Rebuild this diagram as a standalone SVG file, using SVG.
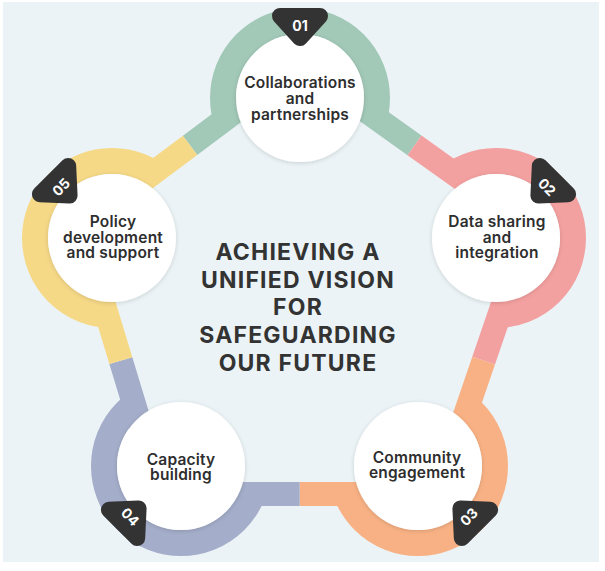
<svg xmlns="http://www.w3.org/2000/svg" width="605" height="571" viewBox="0 0 605 571">
  <style>
    .band { fill: none; stroke-width: 24; stroke-linejoin: miter; stroke-linecap: butt; }
    .ring { fill: none; stroke-width: 26; }
    .disc { fill: #ffffff; filter: url(#sh); }
    .badge { fill: #333333; stroke: #333333; stroke-width: 16; stroke-linejoin: round; }
    .num { font-family: Inter, "Liberation Sans", sans-serif; font-weight: 700; font-size: 14px; fill: #ffffff; text-anchor: middle; }
    .lbl { font-family: Inter, "Liberation Sans", sans-serif; font-weight: 600; font-size: 15.5px; fill: #2e2e2e; text-anchor: middle; letter-spacing: 0.2px; }
    .title { font-family: Inter, "Liberation Sans", sans-serif; font-weight: 700; font-size: 23px; fill: #333333; text-anchor: middle; letter-spacing: 1.2px; }
    .c1 { stroke: #a2c8b7; } .c2 { stroke: #f3a1a0; } .c3 { stroke: #f8b184; } .c4 { stroke: #a4adc9; } .c5 { stroke: #f6d987; }
  </style>
  <defs>
    <filter id="sh" x="-20%" y="-20%" width="140%" height="140%">
      <feDropShadow dx="0" dy="1" stdDeviation="2" flood-color="#000000" flood-opacity="0.15"/>
    </filter>
    <clipPath id="outside">
      <path clip-rule="evenodd" d="M0,0 H605 V571 H0 Z M299.74,63.42 L529.24,227.33 L438.01,494 L161.30,494 L80.40,227.24 Z"/>
    </clipPath>
    <path id="tri" class="badge" d="M-20,-10 L20,-10 L0,12 Z"/>
  </defs>

  <rect x="0" y="0" width="605" height="571" fill="#ffffff"/>
  <rect x="3" y="2" width="596" height="560" fill="#ebf3f6"/>

  <g id="connectors">
    <path class="band c1" d="M190.07,145.33 L299.74,63.42 L414.49,145.38"/>
    <path class="band c2" d="M414.49,145.38 L529.24,227.33 L483.63,360.67"/>
    <path class="band c3" d="M483.63,360.67 L438.01,494 L299.66,494"/>
    <path class="band c4" d="M299.66,494 L161.30,494 L120.85,360.62"/>
    <path class="band c5" d="M120.85,360.62 L80.40,227.24 L190.07,145.33"/>
  </g>

  <g id="node1">
    <circle class="ring c1" cx="300" cy="98" r="77" clip-path="url(#outside)"/>
    <circle class="disc" cx="300" cy="98" r="64"/>
    <g transform="translate(300,26)"><use href="#tri"/><text class="num" x="0" y="5">01</text></g>
    <text class="lbl" x="300" y="88">Collaborations</text>
    <text class="lbl" x="300" y="104">and</text>
    <text class="lbl" x="300" y="120">partnerships</text>
  </g>

  <g id="node2">
    <circle class="ring c2" cx="496" cy="238" r="77" clip-path="url(#outside)"/>
    <circle class="disc" cx="496" cy="238" r="64"/>
    <g transform="translate(546.9,187.1) rotate(45)"><use href="#tri"/><text class="num" x="0" y="5">02</text></g>
    <text class="lbl" x="497" y="227">Data sharing</text>
    <text class="lbl" x="497" y="243">and</text>
    <text class="lbl" x="497" y="258">integration</text>
  </g>

  <g id="node3">
    <circle class="ring c3" cx="418" cy="466" r="77" clip-path="url(#outside)"/>
    <circle class="disc" cx="418" cy="466" r="64"/>
    <g transform="translate(468.9,516.9)"><use href="#tri" transform="rotate(135)"/><text class="num" x="0" y="5" transform="rotate(-45)">03</text></g>
    <text class="lbl" x="417" y="463">Community</text>
    <text class="lbl" x="417" y="478">engagement</text>
  </g>

  <g id="node4">
    <circle class="ring c4" cx="181" cy="466" r="77" clip-path="url(#outside)"/>
    <circle class="disc" cx="181" cy="466" r="64"/>
    <g transform="translate(130.1,516.9)"><use href="#tri" transform="rotate(-135)"/><text class="num" x="0" y="5" transform="rotate(45)">04</text></g>
    <text class="lbl" x="181" y="465">Capacity</text>
    <text class="lbl" x="181" y="480">building</text>
  </g>

  <g id="node5">
    <circle class="ring c5" cx="112" cy="238" r="77" clip-path="url(#outside)"/>
    <circle class="disc" cx="112" cy="238" r="64"/>
    <g transform="translate(61.1,187.1) rotate(-45)"><use href="#tri"/><text class="num" x="0" y="5">05</text></g>
    <text class="lbl" x="113" y="227">Policy</text>
    <text class="lbl" x="113" y="243">development</text>
    <text class="lbl" x="113" y="258">and support</text>
  </g>

  <g id="title">
    <text class="title" x="298" y="260">ACHIEVING A</text>
    <text class="title" x="298" y="288">UNIFIED VISION</text>
    <text class="title" x="298" y="315">FOR</text>
    <text class="title" x="298" y="343">SAFEGUARDING</text>
    <text class="title" x="298" y="371">OUR FUTURE</text>
  </g>
</svg>
